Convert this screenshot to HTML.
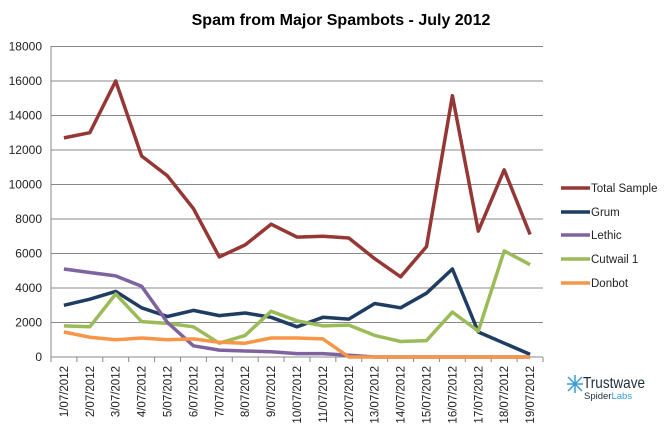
<!DOCTYPE html>
<html><head><meta charset="utf-8"><style>body{margin:0;background:#fff}svg{display:block}text{font-family:"Liberation Sans",sans-serif}</style></head><body>
<svg width="671" height="436" xmlns="http://www.w3.org/2000/svg">
<text x="341" y="25" text-anchor="middle" font-size="16" font-weight="bold" fill="#000">Spam from Major Spambots - July 2012</text>
<g id="grid" stroke="#888" stroke-width="1"></g>
<g id="lab" font-size="12" fill="#222" text-anchor="end"></g>
<g id="xl" font-size="11.5" fill="#222"></g>
<g id="series" fill="none" stroke-width="3.5" stroke-linejoin="round"></g>
<g font-size="11.5" fill="#222">
<line x1="561" y1="188" x2="590" y2="188" stroke="#953735" stroke-width="3.5"/><text x="591" y="192">Total Sample</text>
<line x1="561" y1="212" x2="590" y2="212" stroke="#1f3d63" stroke-width="3.5"/><text x="591" y="216">Grum</text>
<line x1="561" y1="235" x2="590" y2="235" stroke="#7f63a1" stroke-width="3.5"/><text x="591" y="239">Lethic</text>
<line x1="561" y1="259" x2="590" y2="259" stroke="#9bbb59" stroke-width="3.5"/><text x="591" y="263">Cutwail 1</text>
<line x1="561" y1="283" x2="590" y2="283" stroke="#f79646" stroke-width="3.5"/><text x="591" y="287">Donbot</text>
</g>
<g>
<g stroke="#3a9bd5" stroke-width="1.5"><line x1="568" y1="377" x2="582" y2="391"/><line x1="582" y1="377" x2="568" y2="391"/><line x1="575" y1="375" x2="575" y2="393"/><line x1="567" y1="384" x2="583" y2="384"/></g>
<text x="583" y="388" font-size="16" fill="#1f2d3d" textLength="62" lengthAdjust="spacingAndGlyphs">Trustwave</text>
<text x="584" y="399" font-size="9.5" fill="#1f2d3d">Spider<tspan fill="#3a9bd5">Labs</tspan></text>
</g>
<script>
var y0=357,k=34.5/2000;function Y(v){return y0-v*k}
var g=document.getElementById('grid'),l=document.getElementById('lab'),ns='http://www.w3.org/2000/svg';
function el(p,t,a,txt){var e=document.createElementNS(ns,t);for(var q in a)e.setAttribute(q,a[q]);if(txt!=null)e.textContent=txt;p.appendChild(e);return e}
for(var v=0;v<=18000;v+=2000){var y=Y(v);if(v>0)el(g,'line',{x1:51,y1:y,x2:543,y2:y});el(l,'text',{x:42,y:y+4},String(v));}
el(g,'line',{x1:51,y1:46,x2:51,y2:361});el(g,'line',{x1:51,y1:357,x2:543,y2:357});
var st=(543-51)/19,xl=document.getElementById('xl');
for(var i=0;i<=19;i++){var x=51+st*i;el(g,'line',{x1:x,y1:357,x2:x,y2:362});}
for(var i=0;i<19;i++){var x=51+st*(i+0.5)+4;el(xl,'text',{x:0,y:0,transform:'translate('+x+',366) rotate(-90)','text-anchor':'end'},(i+1)+'/07/2012');}
var S=[['#953735',[12700,13000,16000,11650,10500,8600,5800,6500,7700,6950,7000,6900,5700,4650,6400,15150,7300,10850,7100]],
['#1f3d63',[3000,3350,3800,2850,2350,2700,2400,2550,2300,1750,2300,2200,3100,2850,3700,5100,1450,800,150]],
['#9bbb59',[1800,1750,3650,2050,1950,1750,800,1250,2650,2100,1800,1850,1250,900,950,2600,1500,6150,5350]],
['#7f63a1',[5100,4900,4700,4100,2000,650,400,350,300,200,200,100,0,0,0,0,0,0,0]],
['#f79646',[1450,1150,1000,1100,1000,1050,850,800,1100,1100,1050,0,0,0,0,0,0,0,0]]];
var sg=document.getElementById('series');
S.forEach(function(s){var p=s[1].map(function(v,i){return (51+st*(i+0.5)).toFixed(1)+','+Y(v).toFixed(1)}).join(' ');el(sg,'polyline',{points:p,stroke:s[0]});});
</script>
</svg>
</body></html>
